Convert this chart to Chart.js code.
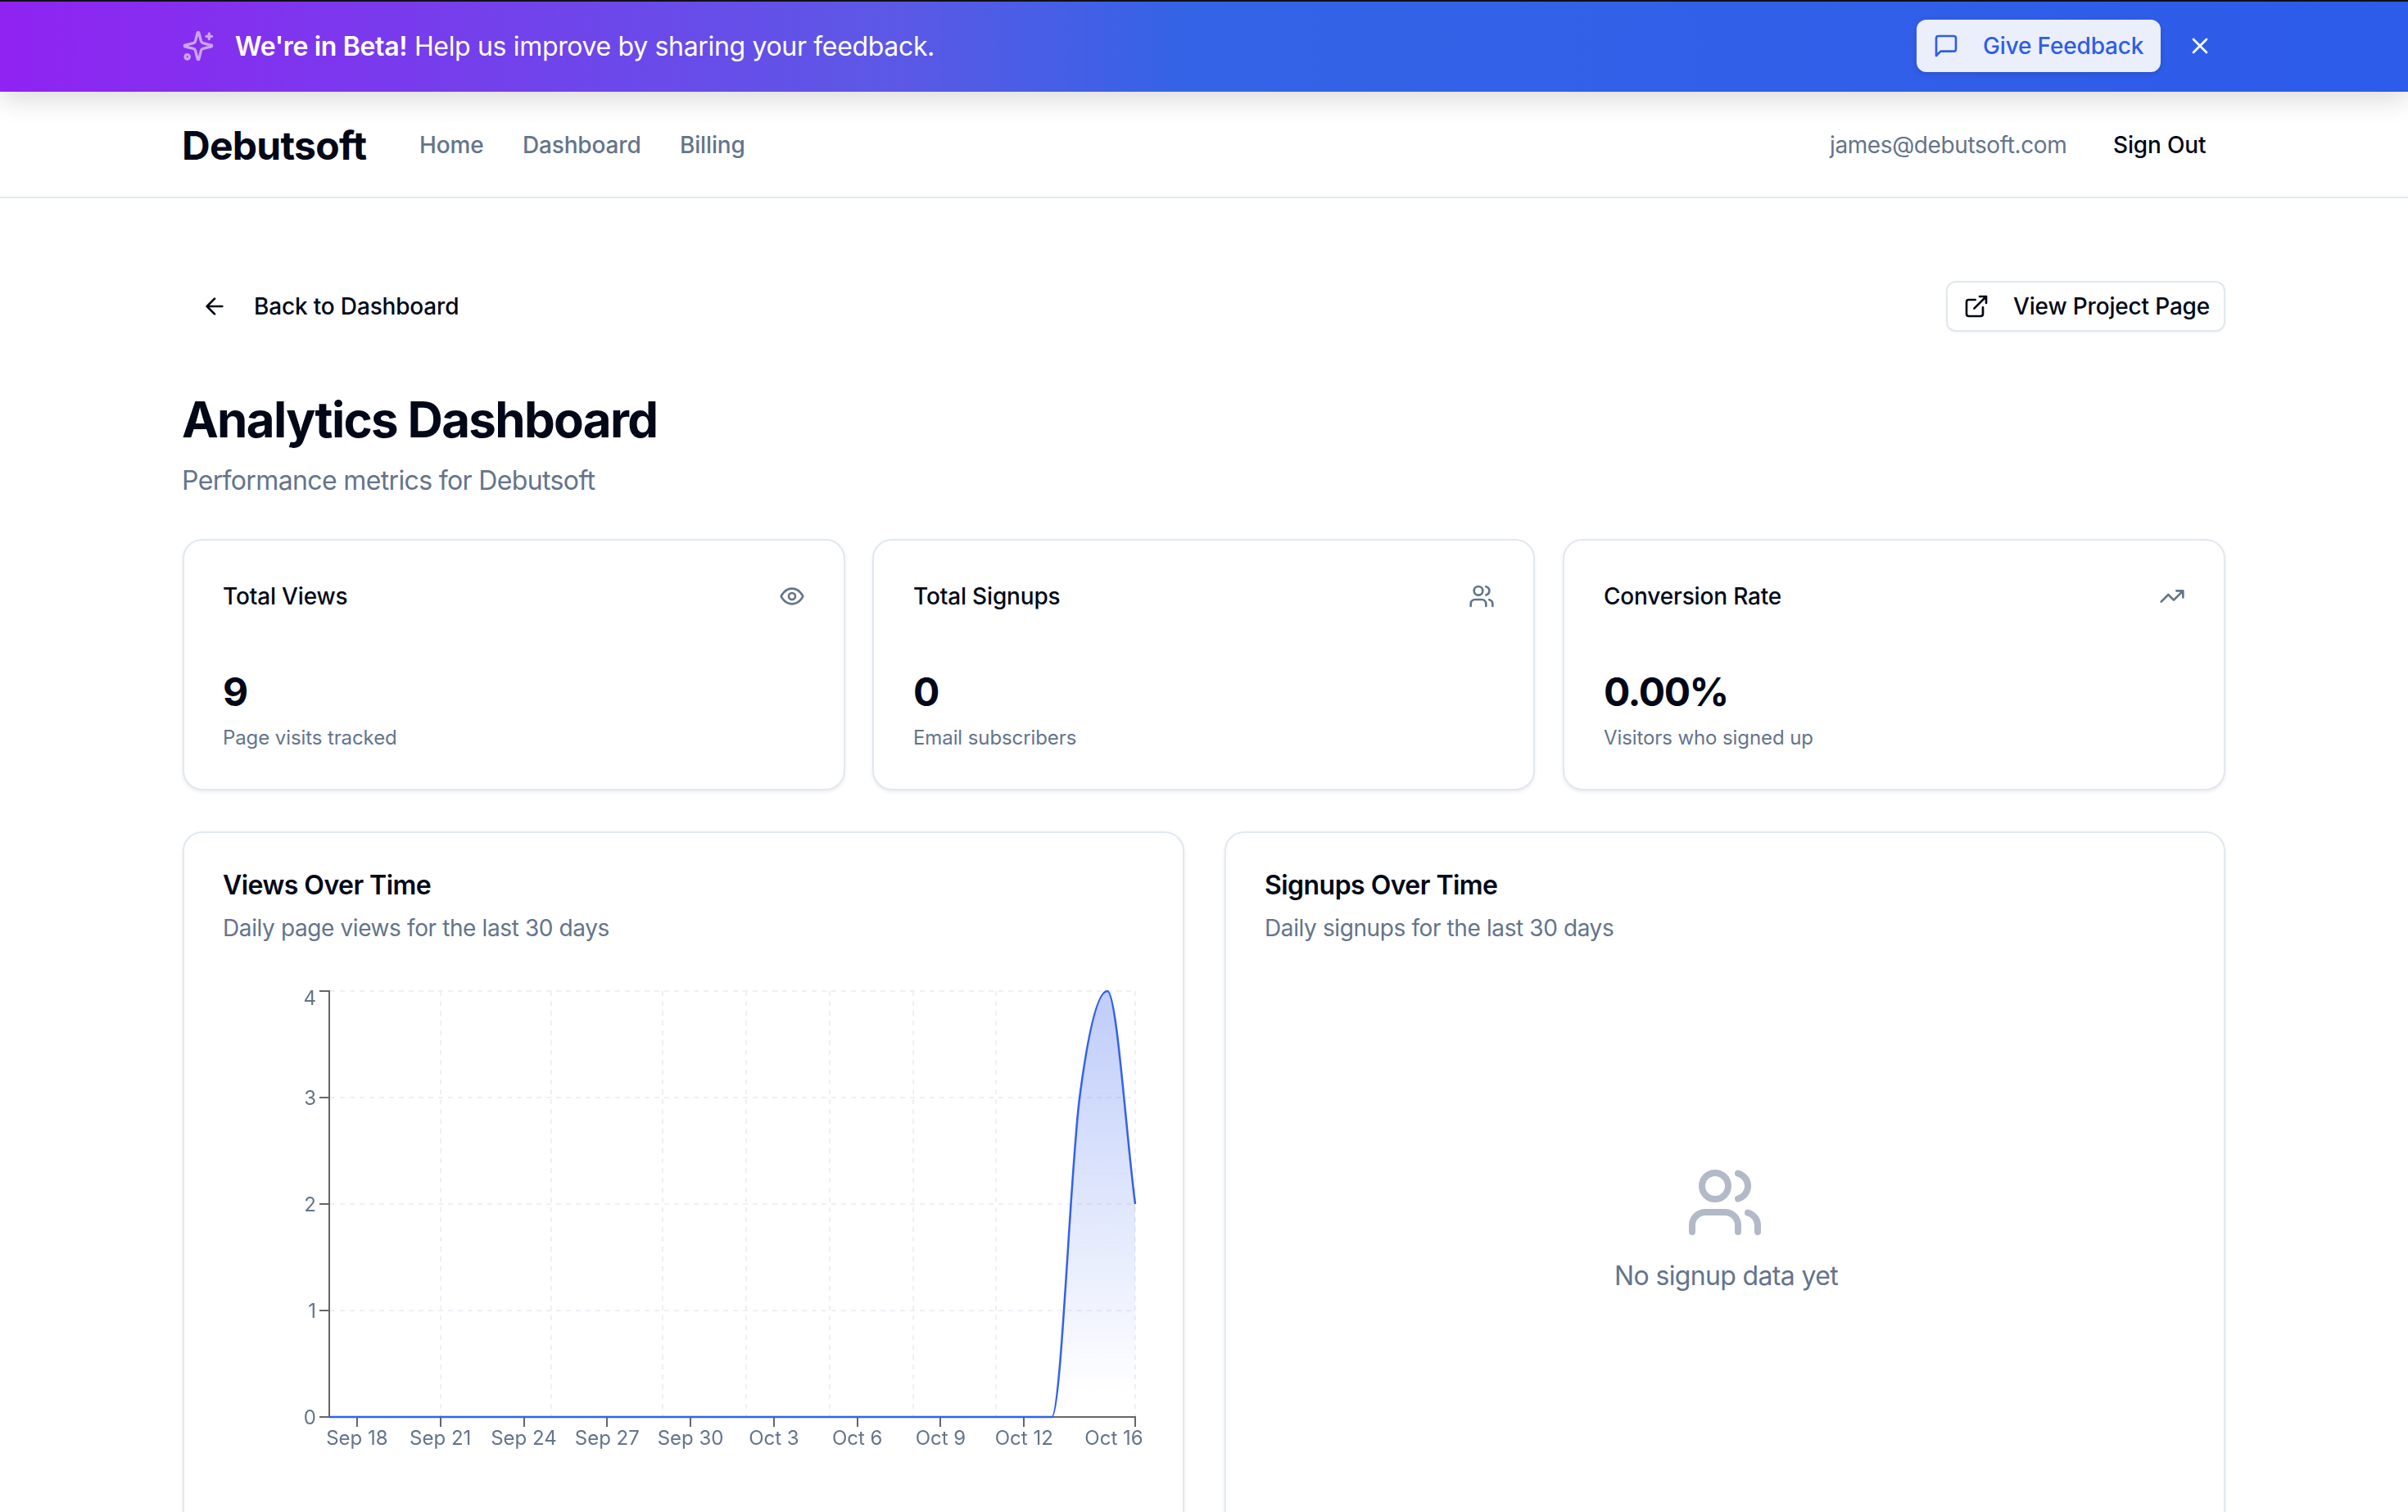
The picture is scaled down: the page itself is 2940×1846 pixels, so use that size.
<!DOCTYPE html>
<html>
<head>
<meta charset="utf-8">
<title>Analytics Dashboard</title>
<script src="https://cdn.jsdelivr.net/npm/chart.js@4/dist/chart.umd.min.js"></script>
<style>
    html, body { margin: 0; width: 2940px; height: 1846px; overflow: hidden; background: #fff; font-family: Inter, sans-serif; color: #020817; }
    .t { position: absolute; white-space: nowrap; line-height: 1; transform: translateY(-50%); letter-spacing: -0.014em; }
    .tight { letter-spacing: -0.02em; }
    .sub { font-size: 24px; letter-spacing: -0.004em; }
    .box { position: absolute; box-sizing: border-box; }
    .card { background: #fff; border: 2px solid #e2e8f0; border-radius: 24px; box-shadow: 0 2px 4px rgba(0,0,0,.08); }
    .muted { color: #64748b; }
    .med { font-weight: 500; letter-spacing: -0.006em; }
    svg.i { position: absolute; fill: none; stroke: currentColor; stroke-width: 2; stroke-linecap: round; stroke-linejoin: round; }
    #banner { left: 0; top: 0; width: 2940px; height: 112px; border-top: 2px solid #111; background: linear-gradient(90deg, #9023f2 0%, #5c58e6 37%, #3563e6 49%, #2d5bea 100%); box-shadow: 0 10px 30px rgba(0,0,0,.14); }
    #nav { left: 0; top: 112px; width: 2940px; height: 130px; border-bottom: 2px solid #e2e8f0; }
    #feedback { left: 2340px; top: 24px; width: 298px; height: 64px; background: #ebeffc; border-radius: 12px; box-shadow: 0 2px 6px rgba(0,0,0,.15); }
    #projectBtn { left: 2376px; top: 343px; width: 341px; height: 62px; background: #fff; border: 2px solid #e2e8f0; border-radius: 12px; box-shadow: 0 1px 3px rgba(0,0,0,.06); }
    #chartWrap { position: absolute; left: 300px; top: 1180px; width: 1140px; height: 640px; }
</style>
</head>
<body>

<div class="box" id="nav"></div>
<div class="box" id="banner"></div>

<svg class="i" viewBox="0 0 24 24" style="left:222px;top:35px;width:40px;height:42px;color:#cba4f7">
    <path d="M9.937 15.5A2 2 0 0 0 8.5 14.063l-6.135-1.582a.5.5 0 0 1 0-.962L8.5 9.936A2 2 0 0 0 9.937 8.5l1.582-6.135a.5.5 0 0 1 .963 0L14.063 8.5A2 2 0 0 0 15.5 9.937l6.135 1.581a.5.5 0 0 1 0 .964L15.5 14.063a2 2 0 0 0-1.437 1.437l-1.582 6.135a.5.5 0 0 1-.963 0z"/>
    <path d="M20 3v4M22 5h-4"/><circle cx="4" cy="20" r="1.6"/>
</svg>
<div class="t" style="left:287px;top:57px;font-size:32px;color:#fff;letter-spacing:-0.0105em"><b style="font-weight:600">We're in Beta!</b> Help us improve by sharing your feedback.</div>

<div class="box" id="feedback"></div>
<svg class="i" viewBox="0 0 24 24" style="left:2360px;top:40px;width:32px;height:32px;color:#2f5de9"><path d="M21 15a2 2 0 0 1-2 2H7l-4 4V5a2 2 0 0 1 2-2h14a2 2 0 0 1 2 2z"/></svg>
<div class="t med" style="left:2421px;top:56px;font-size:28px;color:#2f5de9">Give Feedback</div>
<svg class="i" viewBox="0 0 24 24" style="left:2670px;top:40px;width:32px;height:32px;color:#fff"><path d="M18 6 6 18M6 6l12 12"/></svg>

<div class="t" style="left:222px;top:178px;font-size:48px;font-weight:700;letter-spacing:-0.015em">Debutsoft</div>
<div class="t med muted" style="left:512px;top:177px;font-size:28px">Home</div>
<div class="t med muted" style="left:638px;top:177px;font-size:28px">Dashboard</div>
<div class="t med muted" style="left:830px;top:177px;font-size:28px">Billing</div>
<div class="t muted" style="left:2234px;top:177px;font-size:28px">james@debutsoft.com</div>
<div class="t med" style="left:2580px;top:177px;font-size:28px">Sign Out</div>

<svg class="i" viewBox="0 0 24 24" style="left:246px;top:358px;width:32px;height:32px"><path d="m12 19-7-7 7-7M19 12H5"/></svg>
<div class="t med" style="left:310px;top:374px;font-size:28px">Back to Dashboard</div>
<div class="box" id="projectBtn"></div>
<svg class="i" viewBox="0 0 24 24" style="left:2397px;top:358px;width:32px;height:32px"><path d="M15 3h6v6M10 14 21 3M18 13v6a2 2 0 0 1-2 2H5a2 2 0 0 1-2-2V8a2 2 0 0 1 2-2h6"/></svg>
<div class="t med" style="left:2458px;top:374px;font-size:28px">View Project Page</div>

<div class="t" style="left:222px;top:512px;font-size:60px;font-weight:700;letter-spacing:-0.028em">Analytics Dashboard</div>
<div class="t muted tight" style="left:222px;top:587px;font-size:32px">Performance metrics for Debutsoft</div>

<div class="box card" style="left:223px;top:658px;width:809px;height:307px"></div>
<div class="t med" style="left:272px;top:728px;font-size:28px">Total Views</div>
<svg class="i" viewBox="0 0 24 24" style="left:951px;top:712px;width:32px;height:32px;color:#64748b"><path d="M2 12s3-7 10-7 10 7 10 7-3 7-10 7-10-7-10-7Z"/><circle cx="12" cy="12" r="3"/></svg>
<div class="t" style="left:272px;top:845px;font-size:48px;font-weight:700">9</div>
<div class="t muted sub" style="left:272px;top:901px">Page visits tracked</div>

<div class="box card" style="left:1065px;top:658px;width:809px;height:307px"></div>
<div class="t med" style="left:1115px;top:728px;font-size:28px">Total Signups</div>
<svg class="i" viewBox="0 0 24 24" style="left:1793px;top:712px;width:32px;height:32px;color:#64748b"><path d="M16 21v-2a4 4 0 0 0-4-4H6a4 4 0 0 0-4 4v2"/><circle cx="9" cy="7" r="4"/><path d="M22 21v-2a4 4 0 0 0-3-3.87M16 3.13a4 4 0 0 1 0 7.75"/></svg>
<div class="t" style="left:1115px;top:845px;font-size:48px;font-weight:700">0</div>
<div class="t muted sub" style="left:1115px;top:901px">Email subscribers</div>

<div class="box card" style="left:1908px;top:658px;width:809px;height:307px"></div>
<div class="t med" style="left:1958px;top:728px;font-size:28px">Conversion Rate</div>
<svg class="i" viewBox="0 0 24 24" style="left:2636px;top:712px;width:32px;height:32px;color:#64748b"><path d="M22 7 13.5 15.5 8.5 10.5 2 17M16 7h6v6"/></svg>
<div class="t" style="left:1958px;top:845px;font-size:48px;font-weight:700;letter-spacing:-0.03em">0.00%</div>
<div class="t muted sub" style="left:1958px;top:901px">Visitors who signed up</div>

<div class="box card" style="left:223px;top:1015px;width:1223px;height:900px"></div>
<div class="t tight" style="left:272px;top:1081px;font-size:32px;font-weight:600;letter-spacing:-0.017em">Views Over Time</div>
<div class="t muted" style="left:272px;top:1133px;font-size:28px">Daily page views for the last 30 days</div>
<div id="chartWrap"><canvas id="viewsChart"></canvas></div>

<div class="box card" style="left:1495px;top:1015px;width:1222px;height:900px"></div>
<div class="t tight" style="left:1544px;top:1081px;font-size:32px;font-weight:600;letter-spacing:-0.017em">Signups Over Time</div>
<div class="t muted" style="left:1544px;top:1133px;font-size:28px">Daily signups for the last 30 days</div>
<svg class="i" viewBox="0 0 24 24" style="left:2058px;top:1420px;width:96px;height:96px;color:#b3bac7"><path d="M16 21v-2a4 4 0 0 0-4-4H6a4 4 0 0 0-4 4v2"/><circle cx="9" cy="7" r="4"/><path d="M22 21v-2a4 4 0 0 0-3-3.87M16 3.13a4 4 0 0 1 0 7.75"/></svg>
<div class="t muted tight" style="left:1971px;top:1558px;font-size:32px">No signup data yet</div>

<script>
const days = [
    'Sep 17', 'Sep 18', 'Sep 19', 'Sep 20', 'Sep 21', 'Sep 22', 'Sep 23', 'Sep 24', 'Sep 25', 'Sep 26',
    'Sep 27', 'Sep 28', 'Sep 29', 'Sep 30', 'Oct 1', 'Oct 2', 'Oct 3', 'Oct 4', 'Oct 5', 'Oct 6',
    'Oct 7', 'Oct 8', 'Oct 9', 'Oct 10', 'Oct 11', 'Oct 12', 'Oct 13', 'Oct 14', 'Oct 15', 'Oct 16'
];
const views = [
    0, 0, 0, 0, 0, 0, 0, 0, 0, 0,
    0, 0, 0, 0, 0, 0, 0, 0, 0, 0,
    0, 0, 0, 0, 0, 0, 0, 3, 4, 2
];
const tickDays = ['Sep 18', 'Sep 21', 'Sep 24', 'Sep 27', 'Sep 30', 'Oct 3', 'Oct 6', 'Oct 9', 'Oct 12', 'Oct 16'];
const gridDays = ['Sep 21', 'Sep 25', 'Sep 29', 'Oct 2', 'Oct 5', 'Oct 8', 'Oct 11', 'Oct 16'];
const yTicks = [0, 1, 2, 3, 4];

const axisColor = '#666666';
const gridColor = '#eef0f6';
const labelFont = { family: 'Inter', size: 24 };

// the reference nudges a few labels so they stay inside the plot
const nudgeLabels = {
    id: 'nudgeLabels',
    beforeDraw(chart) {
        chart.scales.x.getLabelItems().forEach(item => {
            if (item.label === 'Oct 16') item.options.translation[0] -= 26;
        });
        chart.scales.y.getLabelItems().forEach(item => {
            item.options.translation[1] += item.label === '4' ? 10 : 2;
        });
    }
};

new Chart(document.getElementById('viewsChart'), {
    type: 'line',
    plugins: [nudgeLabels],
    data: {
        labels: days,
        datasets: [{
            data: views,
            borderColor: '#3360ee',
            borderWidth: 2.5,
            cubicInterpolationMode: 'monotone',
            pointRadius: 0,
            fill: 'origin',
            clip: false,
            backgroundColor: (context) => {
                const area = context.chart.chartArea;
                if (!area) return 'transparent';
                const gradient = context.chart.ctx.createLinearGradient(0, area.top, 0, area.bottom);
                gradient.addColorStop(0.05, 'rgba(51, 96, 238, 0.3)');
                gradient.addColorStop(0.95, 'rgba(51, 96, 238, 0)');
                return gradient;
            }
        }]
    },
    options: {
        responsive: true,
        maintainAspectRatio: false,
        animation: false,
        layout: { padding: { top: 30, right: 54, bottom: 30, left: 0 } },
        plugins: { legend: { display: false }, tooltip: { enabled: false } },
        scales: {
            x: {
                afterFit: (scale) => {
                    scale.height = 60;
                    scale.paddingLeft = 0;
                    scale.paddingRight = 0;
                },
                border: { color: axisColor, width: 2, dash: [6, 6] },
                grid: {
                    lineWidth: 2,
                    tickLength: 12,
                    tickBorderDash: [],
                    color: (c) => gridDays.includes(days[c.index]) ? gridColor : 'transparent',
                    tickColor: (c) => tickDays.includes(days[c.index]) ? axisColor : 'transparent'
                },
                ticks: {
                    autoSkip: false,
                    maxRotation: 0,
                    padding: 0,
                    color: '#64748b',
                    font: labelFont,
                    callback(value) {
                        const day = this.getLabelForValue(value);
                        return tickDays.includes(day) ? day : '';
                    }
                }
            },
            y: {
                min: yTicks[0],
                max: yTicks[yTicks.length - 1],
                afterFit: (scale) => {
                    scale.width = 102;
                    scale.paddingTop = 0;
                    scale.paddingBottom = 0;
                },
                border: { color: axisColor, width: 2, dash: [6, 6] },
                grid: {
                    lineWidth: 2,
                    tickLength: 12,
                    tickBorderDash: [],
                    color: gridColor,
                    tickColor: axisColor
                },
                ticks: {
                    stepSize: 1,
                    padding: 4,
                    color: '#64748b',
                    font: labelFont
                }
            }
        }
    }
});
</script>
</body>
</html>
